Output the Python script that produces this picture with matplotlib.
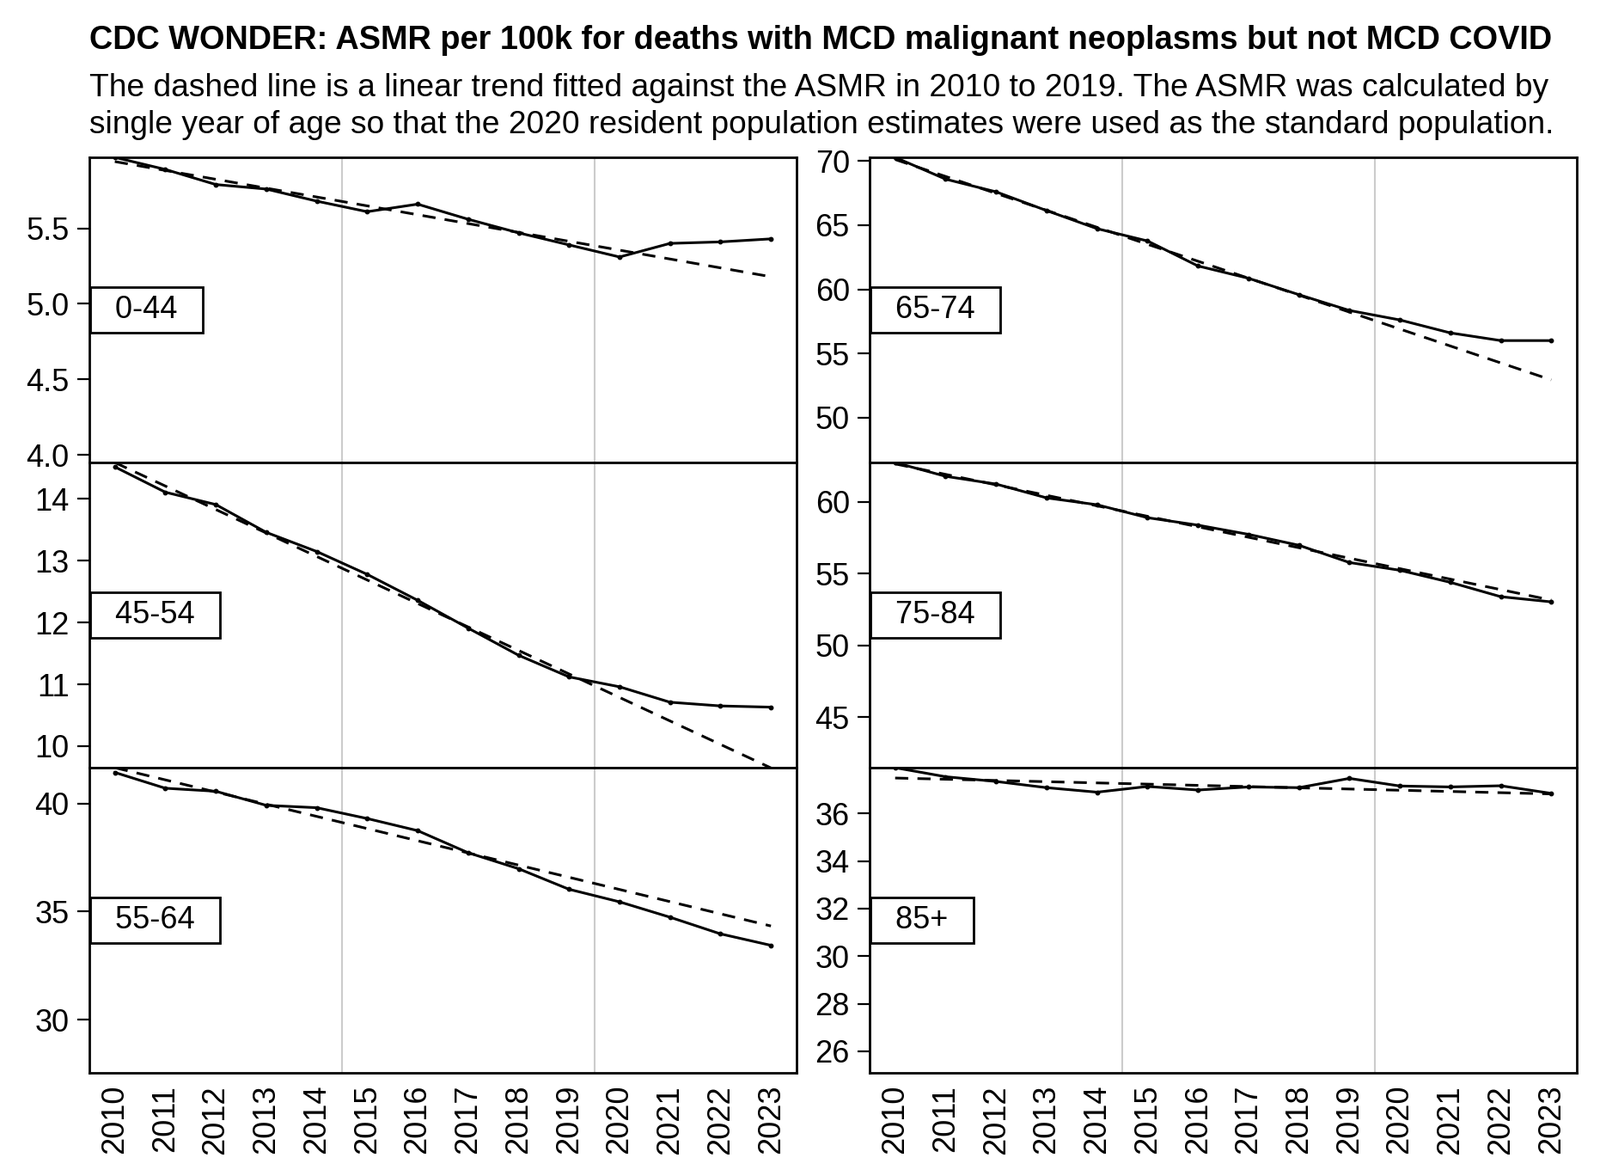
import matplotlib
matplotlib.use("Agg")
import matplotlib.pyplot as plt
from matplotlib.ticker import MultipleLocator, FormatStrFormatter
import numpy as np

plt.rcParams["font.family"] = ["Liberation Sans", "DejaVu Sans"]

# ASMR per 100k
years = list(range(2010, 2024))
age_groups = ["0-44", "45-54", "55-64", "65-74", "75-84", "85+"]
asmr_0_44 = [5.97, 5.89, 5.79, 5.76, 5.68, 5.61, 5.66, 5.56, 5.47, 5.39, 5.31, 5.40, 5.41, 5.43]
asmr_45_54 = [14.52, 14.11, 13.91, 13.46, 13.15, 12.78, 12.36, 11.91, 11.47, 11.12, 10.96, 10.71, 10.65, 10.63]
asmr_55_64 = [41.43, 40.70, 40.56, 39.91, 39.80, 39.30, 38.74, 37.72, 36.98, 36.03, 35.45, 34.74, 33.97, 33.44]
asmr_65_74 = [70.29, 68.59, 67.60, 66.14, 64.73, 63.77, 61.82, 60.86, 59.58, 58.35, 57.61, 56.60, 56.00, 56.00]
asmr_75_84 = [62.74, 61.78, 61.24, 60.28, 59.80, 58.90, 58.38, 57.74, 56.98, 55.78, 55.24, 54.40, 53.40, 53.04]
asmr_85 = [37.93, 37.55, 37.35, 37.09, 36.90, 37.14, 36.99, 37.12, 37.09, 37.48, 37.16, 37.12, 37.17, 36.85]
series = [asmr_0_44, asmr_45_54, asmr_55_64, asmr_65_74, asmr_75_84, asmr_85]
ytick_step = [0.5, 1, 5, 5, 5, 2]

title = "CDC WONDER: ASMR per 100k for deaths with MCD malignant neoplasms but not MCD COVID"
sub1 = "The dashed line is a linear trend fitted against the ASMR in 2010 to 2019. The ASMR was calculated by"
sub2 = "single year of age so that the 2020 resident population estimates were used as the standard population."

fig = plt.figure(figsize=(18.62, 13.68), dpi=100)
fs = 26
col_x = [0.0560, 0.5437]
col_w = 0.4416
row_h = 0.2595
row_y = [0.6067, 0.3472, 0.0877]

x = np.array(years)
for i, (grp, vals) in enumerate(zip(age_groups, series)):
    col, row = i // 3, i % 3
    ax = fig.add_axes([col_x[col], row_y[row], col_w, row_h])
    vals = np.array(vals)
    # linear trend fitted on 2010-2019
    fit = x <= 2019
    k, b = np.polyfit(x[fit], vals[fit], 1)
    trend = k * x + b
    top = max(vals.max(), trend.max())
    ax.set_ylim(top * 0.6614, top)
    ax.set_xlim(2009.5, 2023.5)
    for g in (2014.5, 2019.5):
        ax.axvline(g, color="#cccccc", lw=1.5, zorder=0)
    ax.plot(x, vals, color="black", lw=2.2, marker="o", ms=3.2, zorder=3)
    ax.plot(x, trend, color="black", lw=2.2, ls=(0, (5, 3.5)), zorder=4)
    ax.yaxis.set_major_locator(MultipleLocator(ytick_step[i]))
    if grp == "0-44":
        ax.yaxis.set_major_formatter(FormatStrFormatter("%.1f"))
    ax.set_xticks(years)
    if row == 2:
        ax.set_xticklabels([str(y) for y in years], rotation=90)
    else:
        ax.set_xticklabels([])
    ax.tick_params(axis="y", length=10, width=1.6, pad=7, labelsize=fs)
    ax.tick_params(axis="x", length=0, pad=10, labelsize=fs)
    for s in ax.spines.values():
        s.set_linewidth(2)
    ax.annotate("  " + grp + "  ", xy=(0, 0.5), xycoords="axes fraction",
                xytext=(7, 0), textcoords="offset points", ha="left", va="center",
                fontsize=fs, zorder=6,
                bbox=dict(boxstyle="square,pad=0.26", fc="white", ec="black", lw=2))

fig.text(0.0560, 0.9580, title, fontsize=27.3, fontweight="bold", va="baseline")
fig.text(0.0560, 0.9180, sub1, fontsize=26.7, va="baseline")
fig.text(0.0560, 0.8870, sub2, fontsize=26.7, va="baseline")

fig.savefig("out.png", dpi=100)
